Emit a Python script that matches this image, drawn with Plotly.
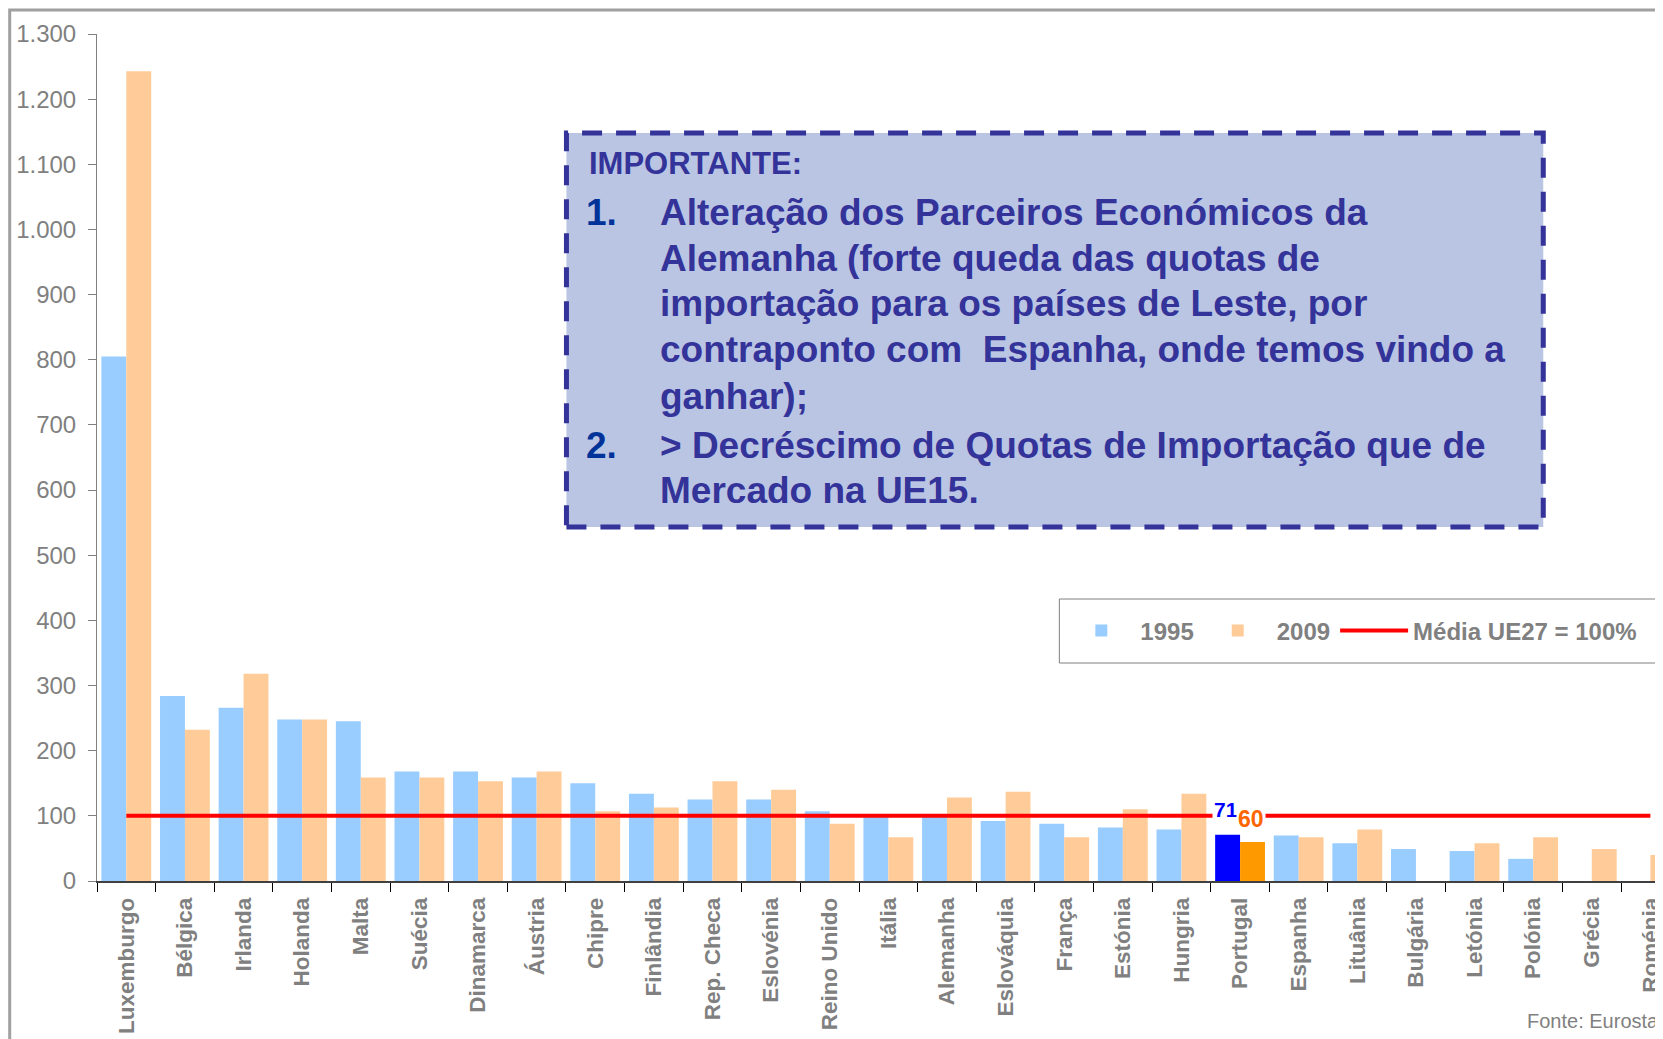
import plotly.graph_objects as go

# data (index, UE27 = 100)
paises = ["Luxemburgo", "Bélgica", "Irlanda", "Holanda", "Malta", "Suécia",
          "Dinamarca", "Áustria", "Chipre", "Finlândia", "Rep. Checa",
          "Eslovénia", "Reino Unido", "Itália", "Alemanha", "Eslováquia",
          "França", "Estónia", "Hungria", "Portugal", "Espanha", "Lituânia",
          "Bulgária", "Letónia", "Polónia", "Grécia", "Roménia"]
v1995 = [805, 284, 266, 248, 245, 168, 168, 159, 150, 134, 125, 125, 107, 102,
         101, 92, 88, 82, 79, 71, 70, 58, 49, 46, 34, None, None]
v2009 = [1243, 232, 318, 248, 159, 159, 153, 168, 107, 113, 153, 140, 88, 67,
         128, 137, 67, 110, 134, 60, 67, 79, None, 58, 67, 49, 40]
media_ue27 = [100] * len(paises)
destaque = "Portugal"

GREY = "#808080"
FONT = "Liberation Sans, Arial, sans-serif"

# page has an 8px body margin, so work in figure pixels = page pixels - 8
OFF = 8
W, H = 1663 - OFF, 1039 - OFF
L, T, B = 96.5 - OFF, 34 - OFF, 881 - OFF
CAT_W = 58.75
pw, ph = W - L, B - T


def px(x):
    # page x -> paper x
    return (x - OFF - L) / pw


def py(y):
    # page y -> paper y
    return (B - (y - OFF)) / ph


cor95 = ["#0000FF" if p == destaque else "#99CCFF" for p in paises]
cor09 = ["#FF9900" if p == destaque else "#FFCC99" for p in paises]

fig = go.Figure()
fig.add_trace(go.Bar(x=paises, y=v1995, name="1995", marker_color=cor95,
                     marker_line_width=0))
fig.add_trace(go.Bar(x=paises, y=v2009, name="2009", marker_color=cor09,
                     marker_line_width=0))
fig.add_trace(go.Scatter(x=paises, y=media_ue27, name="Média UE27 = 100%",
                         mode="lines", line=dict(color="#FF0000", width=4)))

i = paises.index(destaque)
fig.add_annotation(x=destaque, y=110, text=f"<b>{v1995[i]}</b>", showarrow=False,
                   xshift=-14, font=dict(family=FONT, size=21, color="#0000FF"),
                   bgcolor="white", borderpad=1)
fig.add_annotation(x=destaque, y=95, text=f"<b>{v2009[i]}</b>", showarrow=False,
                   xshift=11, font=dict(family=FONT, size=23, color="#FF6600"),
                   bgcolor="white", borderpad=1)

# outer chart frame (cropped on right/bottom like the original)
fig.add_shape(type="rect", xref="paper", yref="paper", x0=px(9), x1=1.3,
              y0=-0.6, y1=py(10), line=dict(color="#A0A0A0", width=3),
              layer="below")

# legend frame
fig.add_shape(type="rect", xref="paper", yref="paper", x0=px(1061), x1=px(1660),
              y0=py(663), y1=py(599), fillcolor="white",
              line=dict(color=GREY, width=1), layer="above")

# note box
fig.add_shape(type="rect", xref="paper", yref="paper", x0=px(567), x1=px(1546),
              y0=py(527), y1=py(133), fillcolor="#BAC5E4",
              line=dict(color="#333399", width=5, dash="20px,14px"))

BLUE_TXT = "#333399"
NUM_TXT = "#003399"
fig.add_annotation(xref="paper", yref="paper", x=px(588), y=py(164),
                   xanchor="left", yanchor="middle", showarrow=False,
                   text="<b>IMPORTANTE:</b>",
                   font=dict(family=FONT, size=31, color=BLUE_TXT))
linhas = [
    ("1.", "Alteração dos Parceiros Económicos da", 212),
    ("", "Alemanha (forte queda das quotas de", 258),
    ("", "importação para os países de Leste, por", 303),
    ("", "contraponto com  Espanha, onde temos vindo a", 350),
    ("", "ganhar);", 396),
    ("2.", "&gt; Decréscimo de Quotas de Importação que de", 445),
    ("", "Mercado na UE15.", 491),
]
for num, txt, yy in linhas:
    if num:
        fig.add_annotation(xref="paper", yref="paper", x=px(585), y=py(yy),
                           xanchor="left", yanchor="middle", showarrow=False,
                           text=f"<b>{num}</b>",
                           font=dict(family=FONT, size=37, color=NUM_TXT))
    fig.add_annotation(xref="paper", yref="paper", x=px(659), y=py(yy),
                       xanchor="left", yanchor="middle", showarrow=False,
                       text=f"<b>{txt}</b>",
                       font=dict(family=FONT, size=37, color=BLUE_TXT))

fig.add_annotation(xref="paper", yref="paper", x=px(1528), y=py(1021),
                   xanchor="left", yanchor="middle", showarrow=False,
                   text="Fonte: Eurostat",
                   font=dict(family=FONT, size=20, color=GREY))

fig.update_layout(
    width=W, height=H,
    margin=dict(l=L, r=0, t=T, b=H - B),
    paper_bgcolor="white", plot_bgcolor="white",
    separators=",.",
    barmode="group", bargap=0.15, bargroupgap=0,
    showlegend=True,
    legend=dict(orientation="h", x=px(1064), y=py(631), xanchor="left",
                yanchor="middle", bgcolor="rgba(0,0,0,0)", borderwidth=0,
                itemwidth=68, tracegroupgap=0,
                font=dict(family=FONT, size=24, color=GREY, weight="bold")),
    font=dict(family=FONT, color=GREY),
)
fig.update_xaxes(
    type="category", range=[-0.5, -0.5 + pw / CAT_W],
    tickson="boundaries", ticks="outside", ticklen=9, tickcolor="black",
    showline=True, linecolor="#404040", linewidth=1.5, showgrid=False,
    tickangle=-90, ticklabelstandoff=6,
    tickfont=dict(family=FONT, size=22.5, color=GREY, weight="bold"),
)
fig.update_yaxes(
    range=[0, 1300], dtick=100, tickformat=",d",
    ticks="outside", ticklen=8, tickcolor=GREY,
    showline=True, linecolor=GREY, linewidth=1, showgrid=False, zeroline=False,
    ticklabelstandoff=7,
    tickfont=dict(family=FONT, size=24, color=GREY),
)

fig.write_html("out.html")
